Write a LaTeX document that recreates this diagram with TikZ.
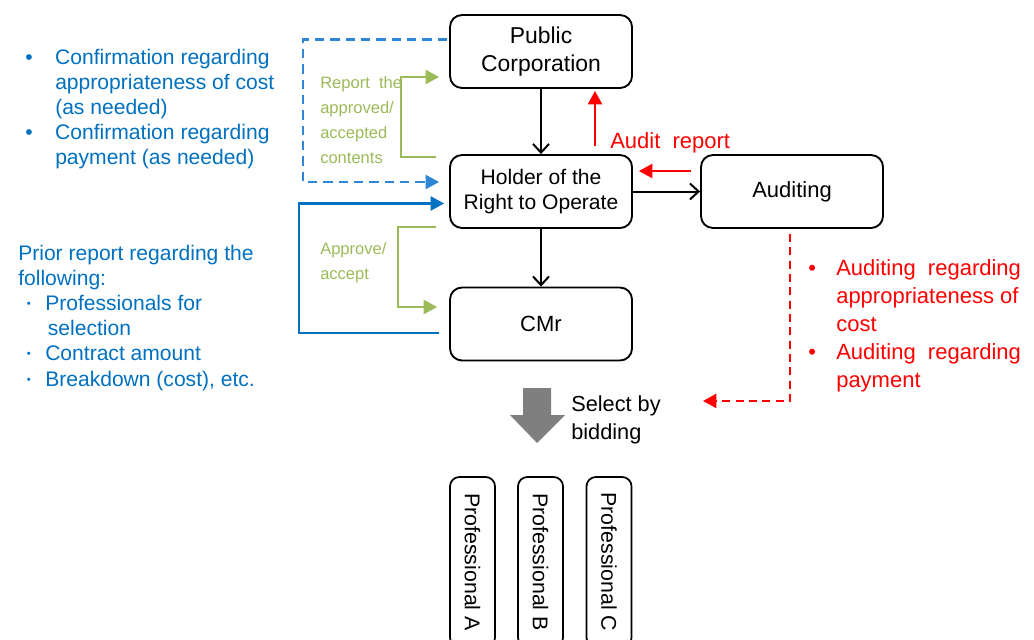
\documentclass[tikz,border=0pt]{standalone}
\usepackage{fontspec}
\setmainfont{Liberation Sans}
\usetikzlibrary{arrows.meta,calc}
\definecolor{cmblue}{HTML}{0070C0}
\definecolor{cmdash}{HTML}{2E86D6}
\definecolor{cmgreen}{HTML}{9BBB59}
\definecolor{cmred}{HTML}{FF0000}
\definecolor{cmgray}{HTML}{7F7F7F}
\newcommand\middot{\raisebox{2.2pt}{\fontsize{8.5}{9}\selectfont\textbullet}}
\tikzset{
  partyBox/.style={draw=black, line width=1.4pt, rounded corners=9pt, minimum width=136.5pt, minimum height=54.75pt, align=center, inner sep=2pt},
  proBox/.style={draw=black, line width=1.3pt, rounded corners=7pt, rotate=-90, minimum width=127.5pt, minimum height=33.75pt, inner sep=1pt, font=\fontsize{16}{19}\selectfont},
  flowArrow/.style={-{Straight Barb[length=6.5pt,width=12pt]}, line width=1.5pt},
  tipArrow/.style={-{Triangle[length=10pt,width=10.5pt]}, line width=1.6pt},
  sideText/.style={anchor=base west, align=left, inner sep=0pt}
}

\begin{document}
\begin{tikzpicture}[x=0.75pt,y=-0.75pt]
  \useasboundingbox (0,0) rectangle (1034,639);
  \node[partyBox, font=\fontsize{17.2}{21}\selectfont] (pub) at (541,51.5) {Public\\Corporation};
  \node[partyBox, font=\fontsize{15.8}{18.8}\selectfont] (hold) at (541,191.5) {Holder of the\\Right to Operate};
  \node[partyBox, font=\fontsize{16.5}{19}\selectfont] (cmr) at (541,324) {CMr};
  \node[partyBox, font=\fontsize{16.5}{19}\selectfont] (aud) at (792,191.5) {Auditing};

  \draw[flowArrow] (pub.south) -- (hold.north);
  \draw[flowArrow] (hold.south) -- (cmr.north);
  \draw[flowArrow] (hold.east) -- (aud.west);

  \draw[tipArrow, draw=cmred] ($(hold.north)+(54,-8)$) -- ($(pub.south)+(54,2)$);
  \draw[tipArrow, draw=cmred] ($(aud.west)+(-9,-20.5)$) -- ($(hold.east)+(6,-20.5)$);
  \node[sideText, text=cmred, font=\fontsize{16.5}{19}\selectfont] (audrep) at (610,148) {Audit\ \ report};

  \draw[tipArrow, draw=cmdash, dash pattern=on 7pt off 4.5pt] ($(pub.west)+(-2,-12)$) -- ++(-144,0) |- ($(hold.west)+(-10,-9.5)$);
  \draw[tipArrow, draw=cmblue] ($(cmr.west)+(-10,9)$) -- ++(-140,0) |- ($(hold.west)+(-5,12)$);
  \draw[tipArrow, draw=cmgreen] ($(hold.west)+(-13,-34.5)$) -- ++(-35,0) |- ($(pub.west)+(-10,25.5)$);
  \draw[tipArrow, draw=cmgreen] ($(hold.west)+(-13,35.5)$) -- ++(-38,0) |- ($(cmr.west)+(-12,-17)$);
  \draw[tipArrow, draw=cmred, dash pattern=on 6pt off 4pt] ($(aud.south)+(-2,5)$) -- ++(0,167) -- ++(-87,0);

  \node[sideText, text=cmgreen, font=\fontsize{12.4}{18.8}\selectfont] (rep) at (320,88)
    {\begin{tabular}[t]{@{}l@{}}Report\ \ the\\approved/\\accepted\\contents\end{tabular}};
  \node[sideText, text=cmgreen, font=\fontsize{12.4}{18.8}\selectfont] (appr) at (320,254)
    {\begin{tabular}[t]{@{}l@{}}Approve/\\accept\end{tabular}};

  \node[sideText, text=cmblue, font=\fontsize{15.8}{18.9}\selectfont] (conf) at (25,64)
    {\begin{tabular}[t]{@{}p{22.5pt}@{}l@{}}
      \textbullet & Confirmation regarding\\
                  & appropriateness of cost\\
                  & (as needed)\\
      \textbullet & Confirmation regarding\\
                  & payment (as needed)
    \end{tabular}};
  \node[sideText, text=cmblue, font=\fontsize{15.8}{18.9}\selectfont] (prior) at (18,260)
    {\begin{tabular}[t]{@{\hspace{6.5pt}}p{13.75pt}@{}l@{}}
      \multicolumn{2}{@{}l@{}}{Prior report regarding the}\\
      \multicolumn{2}{@{}l@{}}{following:}\\
      \middot & Professionals for\\
              & \hspace{2pt}selection\\
      \middot & Contract amount\\
      \middot & Breakdown (cost), etc.
    \end{tabular}};
  \node[sideText, text=cmred, font=\fontsize{16.5}{21}\selectfont] (audlist) at (808,275)
    {\begin{tabular}[t]{@{}p{21pt}@{}l@{}}
      \textbullet & Auditing\ \ regarding\\
                  & appropriateness of\\
                  & cost\\
      \textbullet & Auditing\ \ regarding\\
                  & payment
    \end{tabular}};

  \fill[cmgray] (523,388) -- (551,388) -- (551,415) -- (565,415) -- (537,443) -- (510,415) -- (523,415) -- cycle;
  \node[sideText, font=\fontsize{16.3}{21}\selectfont] (bid) at (571,411)
    {\begin{tabular}[t]{@{}l@{}}Select by\\bidding\end{tabular}};

  \begin{scope}
    \clip (0,0) rectangle (1034,639);
    \foreach \x/\lab in {472.5/A,540.5/B,609/C}
      \node[proBox] (pro\lab) at (\x,562) {Professional \lab};
  \end{scope}
\end{tikzpicture}
\end{document}
